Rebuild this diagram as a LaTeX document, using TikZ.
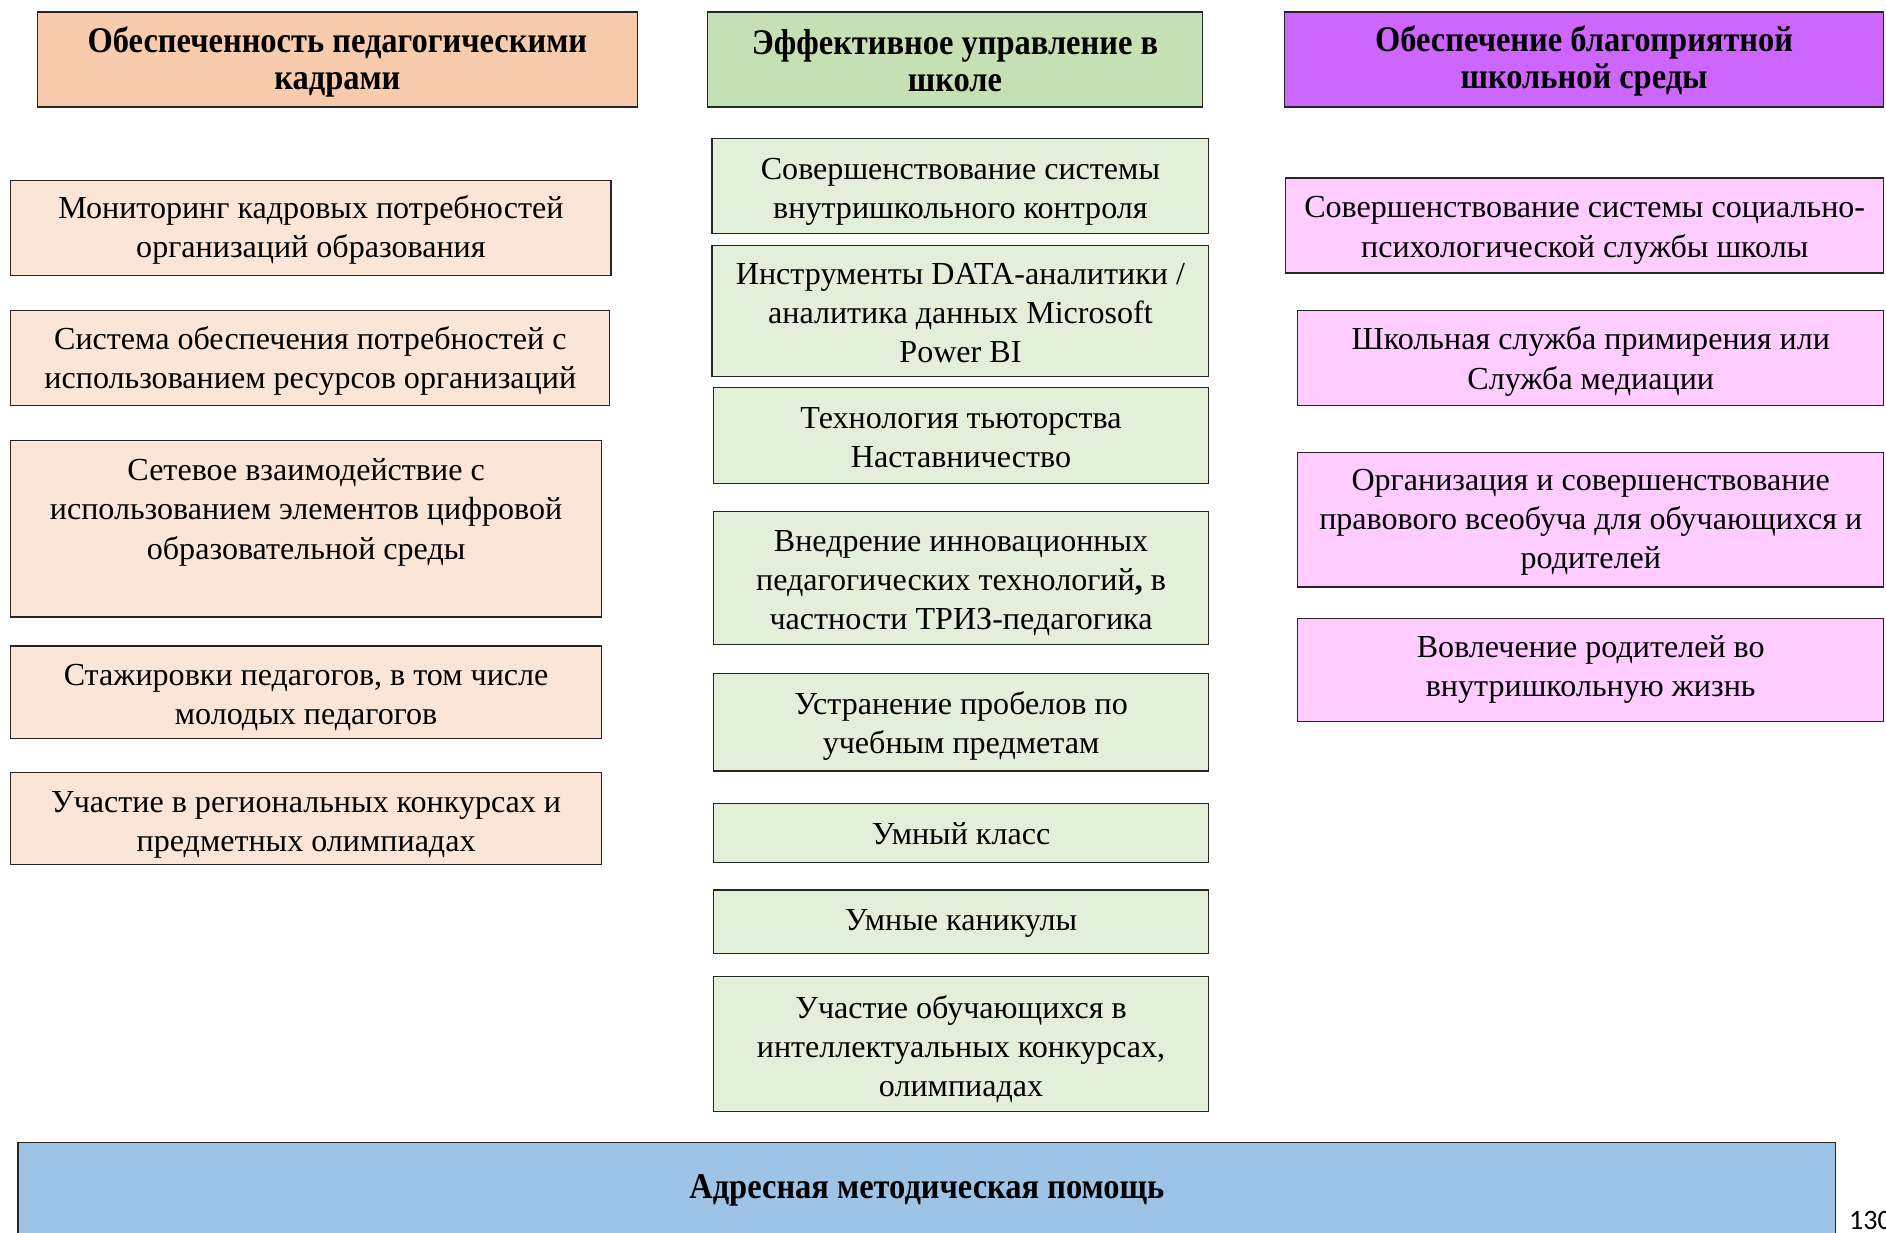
\documentclass[tikz,border=0pt]{standalone}
\usepackage{fontspec}
\setmainfont{Liberation Serif}
\newfontfamily\hdfont[FakeStretch=0.9]{Liberation Serif}
\newfontfamily\pgfont{Carlito}
\definecolor{hOrange}{HTML}{F8CBAD}
\definecolor{bOrange}{HTML}{FBE5D6}
\definecolor{hGreen}{HTML}{C5E0B4}
\definecolor{bGreen}{HTML}{E2F0D9}
\definecolor{hPurple}{HTML}{CC66FF}
\definecolor{bPink}{HTML}{FFCCFF}
\definecolor{bBlue}{HTML}{9DC3E6}
\definecolor{edge}{HTML}{262626}
\tikzset{
  boxbase/.style={rectangle, draw=edge, line width=0.6pt, inner sep=0pt, outer sep=0pt},
  ho/.style={boxbase, fill=hOrange},
  bo/.style={boxbase, fill=bOrange},
  hg/.style={boxbase, fill=hGreen},
  bg/.style={boxbase, fill=bGreen},
  hp/.style={boxbase, fill=hPurple},
  bp/.style={boxbase, fill=bPink},
  bb/.style={boxbase, fill=bBlue},
  txt/.style={align=center, inner sep=0pt, font=\fontsize{16}{19.5}\selectfont},
  hdtxt/.style={align=center, inner sep=0pt, font=\hdfont\bfseries\fontsize{18}{18.2}\selectfont},
}
% name, style, x1, y1, x2, y2, dy, text style, text
\newcommand\bx[9]{%
  \node[#2, minimum width={(#5-#3)*0.6pt}, minimum height={(#6-#4)*0.6pt}] (#1) at ({(#3+#5)/2},{(#4+#6)/2}) {};
  \node[#8] (#1-t) at ({(#3+#5)/2},{(#4+#6)/2+#7}) {#9};}
\begin{document}
\begin{tikzpicture}[x=0.6pt, y=-0.6pt]
\clip (0,0) rectangle (1568,1025);
\fill[white] (0,0) rectangle (1568,1025);
% headers
\bx{h1}{ho}{31}{10}{530}{89}{2}{hdtxt}{Обеспеченность педагогическими\\кадрами}
\bx{h2}{hg}{588}{10}{1000}{89}{1}{hdtxt}{Эффективное управление в\\школе}
\bx{h3}{hp}{1068}{10}{1566}{89}{1}{hdtxt}{Обеспечение благоприятной\\школьной среды}
% left column
\bx{l1}{bo}{9}{150}{508}{229}{1.5}{txt}{Мониторинг кадровых потребностей\\организаций образования}
\bx{l2}{bo}{9}{258}{507}{337}{2.5}{txt}{Система обеспечения потребностей с\\использованием ресурсов организаций}
\bx{l3}{bo}{9}{366}{500}{513}{-13.5}{txt}{Сетевое взаимодействие с\\использованием элементов цифровой\\образовательной среды}
\bx{l4}{bo}{9}{537}{500}{614}{4}{txt}{Стажировки педагогов, в том числе\\молодых педагогов}
\bx{l5}{bo}{9}{642}{500}{719}{5}{txt}{Участие в региональных конкурсах и\\предметных олимпиадах}
% middle column
\bx{m1}{bg}{592}{115}{1005}{194}{5}{txt}{Совершенствование системы\\внутришкольного контроля}
\bx{m2}{bg}{592}{204}{1005}{313}{1.5}{txt}{Инструменты DATA-аналитики /\\аналитика данных Microsoft\\Power BI}
\bx{m3}{bg}{593}{322}{1005}{402}{2}{txt}{Технология тьюторства\\Наставничество}
\bx{m4}{bg}{593}{425}{1005}{536}{4}{txt}{Внедрение инновационных\\педагогических технологий\textbf{,} в\\частности ТРИЗ-педагогика}
\bx{m5}{bg}{593}{560}{1005}{641}{3}{txt}{Устранение пробелов по\\учебным предметам}
\bx{m6}{bg}{593}{668}{1005}{717}{0.5}{txt}{Умный класс}
\bx{m7}{bg}{593}{740}{1005}{793}{1}{txt}{Умные каникулы}
\bx{m8}{bg}{593}{812}{1005}{924}{4}{txt}{Участие обучающихся в\\интеллектуальных конкурсах,\\олимпиадах}
% right column
\bx{r1}{bp}{1069}{148}{1566}{227}{4}{txt}{Совершенствование системы социально-\\психологической службы школы}
\bx{r2}{bp}{1079}{258}{1566}{337}{3}{txt}{Школьная служба примирения или\\Служба медиации}
\bx{r3}{bp}{1079}{376}{1566}{488}{2.5}{txt}{Организация и совершенствование\\правового всеобуча для обучающихся и\\родителей}
\bx{r4}{bp}{1079}{514}{1566}{600}{-0.5}{txt}{Вовлечение родителей во\\внутришкольную жизнь}
% bottom
\bx{bt}{bb}{15}{950}{1526}{1060}{-15}{hdtxt}{Адресная методическая помощь}
\node[anchor=base west, inner sep=0pt, font=\pgfont\fontsize{14}{16}\selectfont] (pg) at (1537,1022) {130};
\end{tikzpicture}
\end{document}
